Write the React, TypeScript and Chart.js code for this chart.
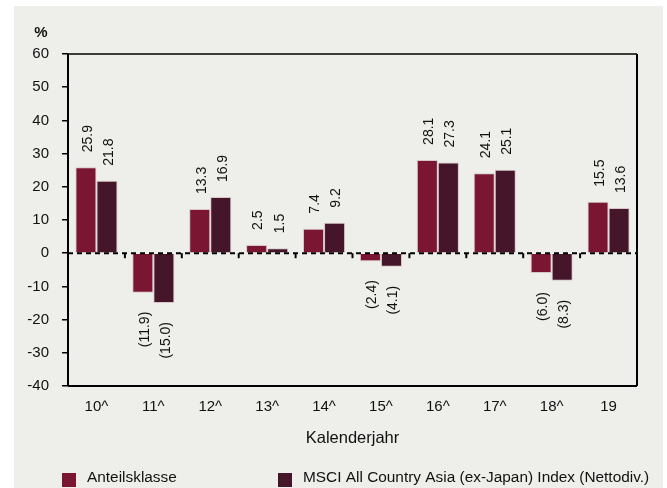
import React, { useEffect, useRef } from 'react';
import { Chart, registerables } from 'chart.js';

Chart.register(...registerables);

const categories = ['10^', '11^', '12^', '13^', '14^', '15^', '16^', '17^', '18^', '19'];
const anteilsklasse = [25.9, -11.9, 13.3, 2.5, 7.4, -2.4, 28.1, 24.1, -6.0, 15.5];
const msciIndex = [21.8, -15.0, 16.9, 1.5, 9.2, -4.1, 27.3, 25.1, -8.3, 13.6];
const seriesNames = ['Anteilsklasse', 'MSCI All Country Asia (ex-Japan) Index (Nettodiv.)'];
const seriesColors = ['#7a1632', '#45152a'];
const yMin = -40;
const yMax = 60;
const yStep = 10;
const xTitle = 'Kalenderjahr';
const yUnit = '%';

const FONT = "'Liberation Sans', Arial, sans-serif";

const fmt = (v: number) => (v < 0 ? `(${Math.abs(v).toFixed(1)})` : v.toFixed(1));

const decorPlugin = {
  id: 'decor',
  beforeDraw(chart: any) {
    const { ctx } = chart;
    ctx.save();
    ctx.fillStyle = '#eeeeea';
    ctx.fillRect(14, 6, 649, 482);
    ctx.restore();
  },
  afterDatasetsDraw(chart: any) {
    const { ctx, chartArea: ca, scales } = chart;
    const y0 = scales.y.getPixelForValue(0);
    ctx.save();
    // zero line dashed
    ctx.strokeStyle = '#000';
    ctx.lineWidth = 2;
    ctx.setLineDash([5, 4]);
    ctx.beginPath();
    ctx.moveTo(ca.left, y0);
    ctx.lineTo(ca.right, y0);
    ctx.stroke();
    ctx.setLineDash([]);
    // boundary tick marks at zero line
    const xs = scales.x;
    const n = categories.length;
    for (let i = 1; i < n; i++) {
      const bx = (xs.getPixelForTick(i - 1) + xs.getPixelForTick(i)) / 2;
      ctx.beginPath();
      ctx.moveTo(bx, y0);
      ctx.lineTo(bx, y0 + 5);
      ctx.stroke();
    }
    // frame
    ctx.lineWidth = 1.5;
    ctx.beginPath();
    ctx.moveTo(ca.left, ca.top);
    ctx.lineTo(ca.right, ca.top);
    ctx.stroke();
    ctx.lineWidth = 2;
    ctx.beginPath();
    ctx.moveTo(ca.right, ca.top);
    ctx.lineTo(ca.right, ca.bottom);
    ctx.moveTo(ca.left, ca.bottom);
    ctx.lineTo(ca.right, ca.bottom);
    ctx.moveTo(ca.left, ca.top);
    ctx.lineTo(ca.left, ca.bottom);
    ctx.stroke();

    // value labels
    ctx.fillStyle = '#111';
    ctx.font = `14px ${FONT}`;
    ctx.textBaseline = 'middle';
    chart.data.datasets.forEach((ds: any, di: number) => {
      const meta = chart.getDatasetMeta(di);
      meta.data.forEach((el: any, i: number) => {
        const v = ds.data[i];
        const ay = v >= 0 ? el.y - 15 : el.y + 19;
        ctx.save();
        ctx.translate(el.x + 2, ay);
        ctx.rotate(-Math.PI / 2);
        ctx.textAlign = v >= 0 ? 'left' : 'right';
        ctx.fillText(fmt(v), 0, 0);
        ctx.restore();
      });
    });

    // unit label
    ctx.font = `bold 15px ${FONT}`;
    ctx.textAlign = 'center';
    ctx.fillText(yUnit, 41, 33);
    ctx.restore();
  },
  afterDraw(chart: any) {
    const { ctx } = chart;
    ctx.save();
    const boxes = [62, 278];
    const texts = [87, 303];
    ctx.font = `15.4px ${FONT}`;
    ctx.textBaseline = 'middle';
    ctx.textAlign = 'left';
    chart.data.datasets.forEach((ds: any, i: number) => {
      ctx.fillStyle = ds.backgroundColor;
      ctx.fillRect(boxes[i], 473, 14, 14);
      ctx.fillStyle = '#111';
      ctx.fillText(ds.label, texts[i], 478);
    });
    ctx.restore();
  },
};

export default function App() {
  const ref = useRef<HTMLCanvasElement>(null);
  useEffect(() => {
    if (!ref.current) return;
    const chart = new Chart(ref.current, {
      type: 'bar',
      data: {
        labels: categories,
        datasets: [
          {
            label: seriesNames[0],
            data: anteilsklasse,
            backgroundColor: seriesColors[0],
            borderColor: 'rgba(200,170,180,0.6)',
            borderWidth: 1,
            barPercentage: 1,
            categoryPercentage: 0.74,
          },
          {
            label: seriesNames[1],
            data: msciIndex,
            backgroundColor: seriesColors[1],
            borderColor: 'rgba(200,170,180,0.6)',
            borderWidth: 1,
            barPercentage: 1,
            categoryPercentage: 0.74,
          },
        ],
      },
      options: {
        responsive: false,
        animation: false,
        devicePixelRatio: 1,
        layout: { padding: { left: 0, right: 30, top: 54, bottom: 40 } },
        plugins: {
          legend: { display: false },
          tooltip: { enabled: false },
        },
        scales: {
          x: {
            grid: { display: false },
            border: { display: false },
            ticks: {
              color: '#111',
              font: { family: FONT, size: 15 },
              padding: 4,
              maxRotation: 0,
            },
            title: {
              display: true,
              text: xTitle,
              color: '#111',
              font: { family: FONT, size: 16.5 },
              padding: { top: 0, bottom: 0 },
            },
            afterFit: (s: any) => {
              s.height = 62;
            },
          },
          y: {
            min: yMin,
            max: yMax,
            grid: {
              drawOnChartArea: false,
              drawTicks: true,
              tickLength: 6,
              color: '#000',
              lineWidth: 1.5,
            },
            border: { display: false },
            ticks: {
              stepSize: yStep,
              color: '#111',
              font: { family: FONT, size: 15 },
              padding: 13,
            },
            afterFit: (s: any) => {
              s.width = 68;
            },
          },
        },
      },
      plugins: [decorPlugin],
    });
    return () => chart.destroy();
  }, []);
  return (
    <div style={{ position: 'absolute', left: 0, top: 0, width: 667, height: 488 }}>
      <canvas ref={ref} width={667} height={488} style={{ display: 'block' }} />
    </div>
  );
}
